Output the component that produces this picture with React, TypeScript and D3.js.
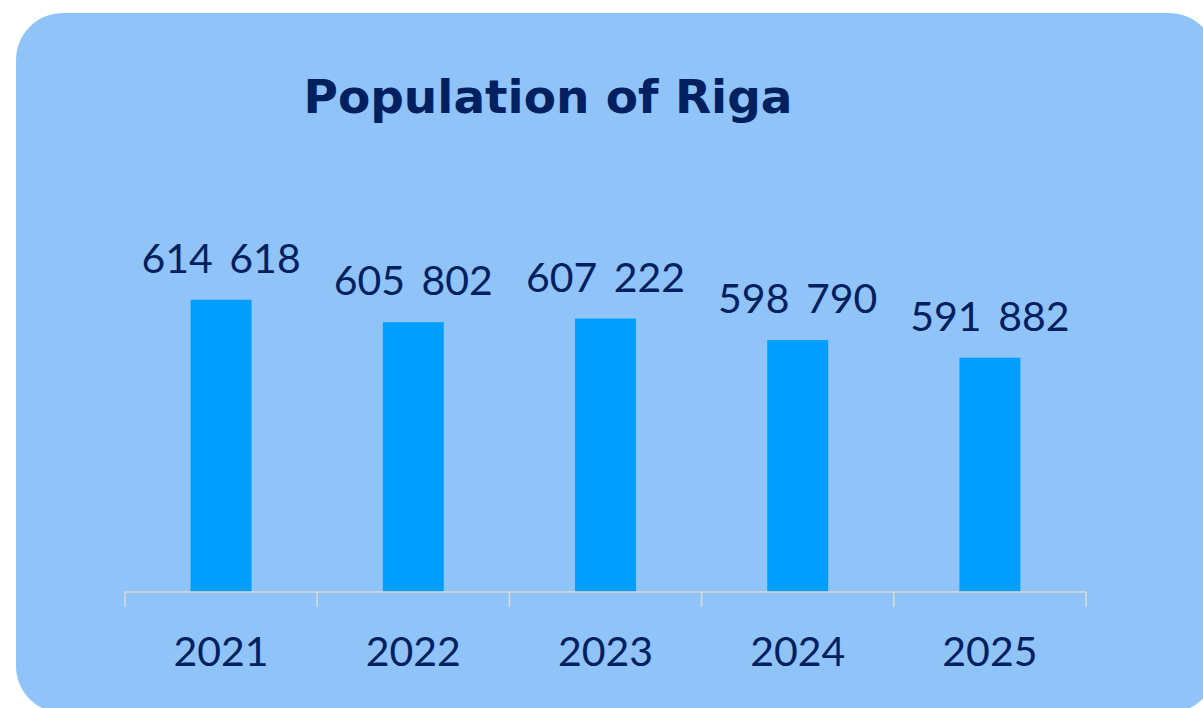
import * as d3 from "d3";
import { useEffect, useRef } from "react";

/* ------------------------------------------------------------------ */
/*  Data                                                               */
/* ------------------------------------------------------------------ */

const YEARS = ["2021", "2022", "2023", "2024", "2025"];
const POPULATION = [614618, 605802, 607222, 598790, 591882];
const Y_DOMAIN: [number, number] = [500000, 620000];

/* ------------------------------------------------------------------ */
/*  Theme tokens                                                       */
/* ------------------------------------------------------------------ */

const W = 1203;
const H = 708;
const PANEL = "#90C4F8";
const BAR = "#009FFF";
const NAVY = "#002060";
const AXIS = "#D9D9D9";
const LABEL_FONT = "Lato, 'Open Sans', sans-serif";

const fmt = (v: number) => d3.format(",")(v).replace(/,/g, " ");

export default function App() {
  const svgRef = useRef<SVGSVGElement>(null);

  useEffect(() => {
    const svg = svgRef.current;
    if (!svg) return;

    const margin = { left: 125, right: W - 1086, base: 592 };

    const x = d3
      .scaleBand<string>()
      .domain(YEARS)
      .range([margin.left, W - margin.right])
      .padding(0);

    const y = d3.scaleLinear().domain(Y_DOMAIN).range([margin.base, 286]);

    const barW = x.bandwidth() * 0.317;

    const sel = d3.select(svg);
    sel.selectAll("*").remove();

    /* Panel */
    sel
      .append("rect")
      .attr("x", 16)
      .attr("y", 13)
      .attr("width", 1200)
      .attr("height", 700)
      .attr("rx", 47)
      .attr("fill", PANEL);

    /* Title */
    sel
      .append("text")
      .attr("x", 548)
      .attr("y", 113)
      .attr("text-anchor", "middle")
      .attr("font-family", "'DejaVu Sans', Verdana, sans-serif")
      .attr("font-weight", "bold")
      .attr("font-size", 47)
      .attr("fill", NAVY)
      .text("Population of Riga");

    const rows = YEARS.map((year, i) => ({ year, value: POPULATION[i] }));

    /* Bars */
    sel
      .append("g")
      .selectAll("rect")
      .data(rows)
      .join("rect")
      .attr("x", (d) => x(d.year)! + (x.bandwidth() - barW) / 2)
      .attr("y", (d) => y(d.value))
      .attr("width", barW)
      .attr("height", (d) => margin.base - y(d.value))
      .attr("fill", BAR);

    /* Value labels */
    sel
      .append("g")
      .selectAll("text")
      .data(rows)
      .join("text")
      .attr("x", (d) => x(d.year)! + x.bandwidth() / 2)
      .attr("y", (d) => y(d.value) - 27)
      .attr("text-anchor", "middle")
      .attr("font-family", LABEL_FONT)
      .attr("font-size", 41)
      .attr("word-spacing", 6)
      .attr("fill", NAVY)
      .text((d) => fmt(d.value));

    /* Category axis: baseline with ticks at band edges */
    const axis = sel.append("g").attr("stroke", AXIS).attr("stroke-width", 1.5);
    const [r0, r1] = x.range();
    axis
      .append("line")
      .attr("x1", r0)
      .attr("x2", r1)
      .attr("y1", margin.base)
      .attr("y2", margin.base);
    const edges = [...YEARS.map((yr) => x(yr)!), r1];
    axis
      .selectAll("line.tick")
      .data(edges)
      .join("line")
      .attr("class", "tick")
      .attr("x1", (d) => d)
      .attr("x2", (d) => d)
      .attr("y1", margin.base)
      .attr("y2", margin.base + 15);

    sel
      .append("g")
      .selectAll("text")
      .data(YEARS)
      .join("text")
      .attr("x", (d) => x(d)! + x.bandwidth() / 2)
      .attr("y", 666)
      .attr("text-anchor", "middle")
      .attr("font-family", LABEL_FONT)
      .attr("font-size", 41)
      .attr("fill", NAVY)
      .text((d) => d);
  }, []);

  return (
    <svg
      ref={svgRef}
      width={W}
      height={H}
      style={{ position: "absolute", left: 0, top: 0, display: "block" }}
    />
  );
}
